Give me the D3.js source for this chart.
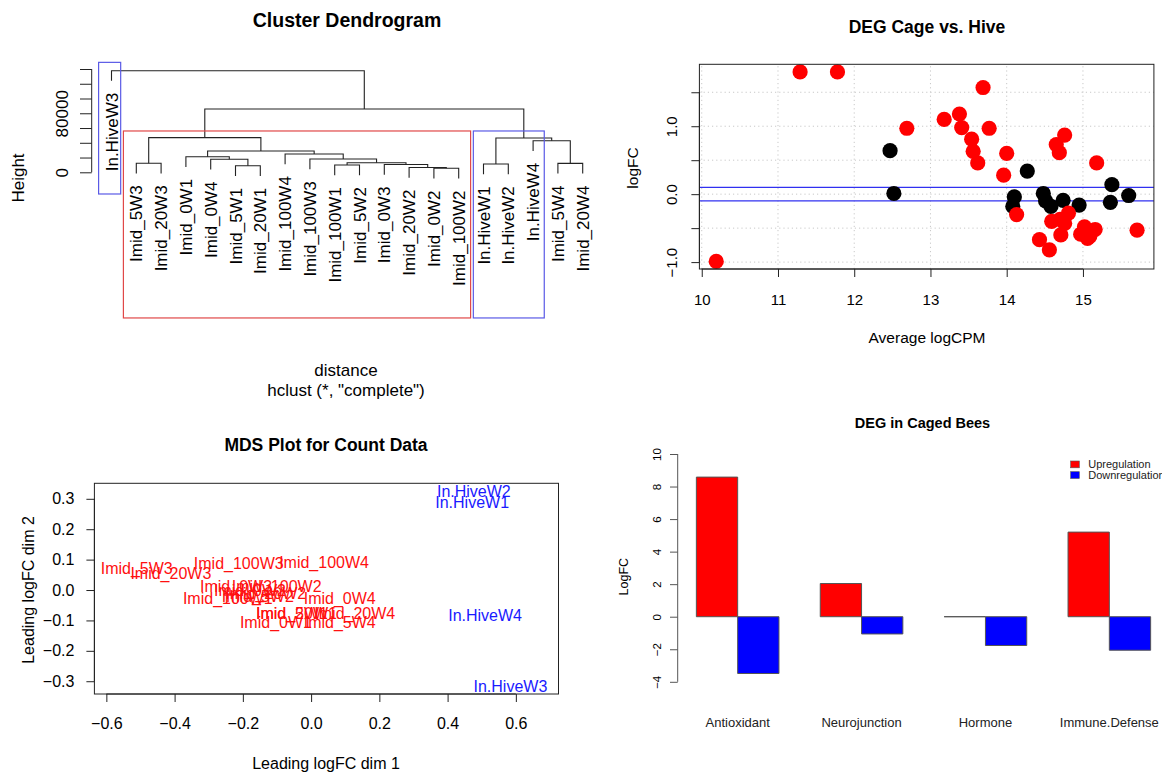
<!DOCTYPE html>
<html>
<head>
<meta charset="utf-8">
<script src="https://cdnjs.cloudflare.com/ajax/libs/d3/7.8.5/d3.min.js"></script>
<style>
body { margin: 0; background: #fff; }
svg { font-family: "Liberation Sans", Arial, Helvetica, sans-serif; }
</style>
</head>
<body>
<svg id="chart"></svg>
<script>
// ---------- DATA ----------
// dendrogram: leaves in plotted order, merges R-style (negative = leaf, positive = earlier merge)
var leafLabels = ["In.HiveW3", "Imid_5W3", "Imid_20W3", "Imid_0W1", "Imid_0W4", "Imid_5W1", "Imid_20W1",
    "Imid_100W4", "Imid_100W3", "Imid_100W1", "Imid_5W2", "Imid_0W3", "Imid_20W2", "Imid_0W2", "Imid_100W2",
    "In.HiveW1", "In.HiveW2", "In.HiveW4", "Imid_5W4", "Imid_20W4"];
var mergeA = [-14, -13, -6, -10, -12, -16, -19, -2, 4, -5, -9, -4, -8, 12, -18, 6, 8, 17, -1];
var mergeB = [-15, 1, -7, -11, 2, -17, -20, -3, 5, 3, 9, 10, 11, 13, 7, 15, 14, 16, 18];
var mergeHeight = [5400, 6500, 8900, 9900, 10600, 11200, 12100, 12300, 13000, 17600, 18000,
    21100, 24800, 28900, 42800, 46500, 47000, 85800, 137700];
var dendroTicks = [0, 20000, 40000, 60000, 80000, 100000, 120000, 140000];
var dendroTickLabels = [0, 80000];
// highlight boxes (leaf units, height units)
var boxFrom = [0.48, 1.48, 15.59];
var boxTo = [1.37, 15.48, 18.45];
var boxTop = [149000, 56000, 56000];
var boxBottom = [-29400, -197400, -197400];
var boxGroup = ["hive", "imid", "hive"];

// DEG cage vs hive (average logCPM, logFC)
var deX = [11.29, 11.78, 10.19, 13.69, 12.69, 13.18, 13.38, 13.41, 13.77, 13.54, 13.56, 13.62, 14.00, 13.96,
    14.76, 14.65, 14.69, 15.18, 14.13, 14.43, 14.56, 14.59, 14.70, 14.81, 14.76, 14.71, 14.97, 15.02,
    15.09, 15.16, 15.06, 15.71];
var deY = [1.80, 1.80, -0.99, 1.57, 0.97, 1.10, 1.18, 0.98, 0.97, 0.81, 0.63, 0.46, 0.60, 0.28,
    0.87, 0.73, 0.61, 0.46, -0.30, -0.67, -0.82, -0.40, -0.37, -0.28, -0.43, -0.60, -0.59, -0.48,
    -0.62, -0.52, -0.65, -0.53];
var nonDeX = [12.47, 12.52, 14.27, 14.10, 14.08, 14.48, 14.51, 14.58, 14.74, 14.95, 15.38, 15.36, 15.60];
var nonDeY = [0.64, 0.01, 0.34, -0.04, -0.18, 0.01, -0.10, -0.18, -0.09, -0.16, 0.14, -0.12, -0.02];
var degCutoffs = [-0.1, 0.1];
var degXTicks = [10, 11, 12, 13, 14, 15];
var degYTicks = [-1, -0.5, 0, 0.5, 1, 1.5];
var degYTickLabels = [-1, 0, 1];

// MDS plot
var mdsLabels = ["Imid_5W3", "Imid_20W3", "Imid_100W3", "Imid_100W4", "Imid_0W3", "Imid_100W2", "Imid_0W2",
    "Imid_5W2", "Imid_20W2", "Imid_100W1", "Imid_0W4", "Imid_5W1", "Imid_20W1", "Imid_20W4", "Imid_0W1",
    "Imid_5W4", "In.HiveW2", "In.HiveW1", "In.HiveW4", "In.HiveW3"];
var mdsDim1 = [-0.511, -0.411, -0.212, 0.038, -0.220, -0.101, -0.179, -0.156, -0.133, -0.244, 0.084,
    -0.056, -0.043, 0.128, -0.103, 0.084, 0.477, 0.472, 0.510, 0.584];
var mdsDim2 = [0.073, 0.056, 0.088, 0.093, 0.011, 0.011, 0.000, -0.020, -0.010, -0.027, -0.027,
    -0.077, -0.077, -0.077, -0.107, -0.107, 0.325, 0.290, -0.082, -0.318];
var mdsXLim = [-0.635, 0.725];
var mdsYLim = [-0.342, 0.351];
var mdsXTicks = [-0.6, -0.4, -0.2, 0, 0.2, 0.4, 0.6];
var mdsYTicks = [-0.3, -0.2, -0.1, 0, 0.1, 0.2, 0.3];

// DEG in caged bees
var barCategories = ["Antioxidant", "Neurojunction", "Hormone", "Immune.Defense"];
var upregulation = [8.58, 2.04, 0, 5.20];
var downregulation = [-3.49, -1.06, -1.77, -2.06];
var barSeries = ["Upregulation", "Downregulation"];
var barYTicks = [-4, -2, 0, 2, 4, 6, 8, 10];

// ---------- HELPERS ----------
var svg = d3.select('#chart').attr('width', 1162).attr('height', 777);
function rNum(d, digits) { // R style minus sign
    var s = digits == null ? String(d) : d.toFixed(digits);
    return s.replace('-', '\u2212');
}
function padExtent(e) {
    var r = e[1] - e[0];
    return [e[0] - 0.04 * r, e[1] + 0.04 * r];
}
// R style axis: line only spans first..last tick; d3 sets its own font, so reset it here
function styleAxis(g, scale, ticks, vertical, color, fontSize) {
    g.attr('font-family', null).attr('font-size', fontSize);
    var a = scale(ticks[0]), b = scale(ticks[ticks.length - 1]);
    g.select('.domain').remove();
    g.selectAll('.tick line').attr('stroke', color);
    g.selectAll('.tick text').attr('fill', '#000');
    g.append('line')
        .attr(vertical ? 'y1' : 'x1', a).attr(vertical ? 'y2' : 'x2', b)
        .attr('stroke', color);
}
function rotateLeftLabels(g, d) {
    g.selectAll('.tick text')
        .attr('transform', 'rotate(-90)')
        .attr('x', 0).attr('y', -d).attr('dy', 0)
        .style('text-anchor', 'middle');
}
function title(txt, x, y, size) {
    svg.append('text').attr('x', x).attr('y', y).attr('text-anchor', 'middle')
        .attr('font-weight', 'bold').attr('font-size', size).text(txt);
}
function label(txt, x, y, size, rot) {
    svg.append('text').attr('text-anchor', 'middle').attr('font-size', size)
        .attr('transform', 'translate(' + x + ',' + y + ')' + (rot ? ' rotate(-90)' : ''))
        .text(txt);
}

// ---------- CLUSTER DENDROGRAM ----------
var dx = d3.scaleLinear().domain([1, leafLabels.length]).range([111.5, 582.7]);
var dy = d3.scaleLinear().domain([0, 140000]).range([172.3, 69]);
var hang = 0.1 * d3.max(mergeHeight);
var dendro = svg.append('g');
var nodeX = [], leafBottom = [];

mergeA.forEach(function(a, i) {
    var b = mergeB[i], h = mergeHeight[i];
    function child(ref) {
        if (ref < 0) {
            leafBottom[-ref] = h - hang;
            return { x: dx(-ref), h: h - hang };
        }
        return { x: nodeX[ref - 1], h: mergeHeight[ref - 1] };
    }
    var ca = child(a), cb = child(b);
    nodeX[i] = (ca.x + cb.x) / 2;
    dendro.append('path')
        .attr('d', 'M' + ca.x + ',' + dy(ca.h) + 'V' + dy(h) + 'H' + cb.x + 'V' + dy(cb.h))
        .attr('fill', 'none').attr('stroke', '#222').attr('stroke-width', 1.1);
});

dendro.selectAll('.leaf')
    .data(leafLabels)
    .enter().append('text')
    .attr('transform', (d, i) => 'translate(' + dx(i + 1) + ',' + (dy(leafBottom[i + 1]) + 12) + ') rotate(-90)')
    .attr('dy', '0.36em')
    .attr('text-anchor', 'end')
    .attr('font-size', 17)
    .text(d => d);

dendro.selectAll('.box')
    .data(boxGroup)
    .enter().append('rect')
    .attr('x', (d, i) => dx(boxFrom[i]))
    .attr('y', (d, i) => dy(boxTop[i]))
    .attr('width', (d, i) => dx(boxTo[i]) - dx(boxFrom[i]))
    .attr('height', (d, i) => dy(boxBottom[i]) - dy(boxTop[i]))
    .attr('fill', 'none')
    .attr('stroke', d => d === 'hive' ? '#5a5ae6' : '#e04848')
    .attr('stroke-width', 1.2);

var dAxis = dendro.append('g').attr('transform', 'translate(91.7,0)')
    .call(d3.axisLeft(dy).tickValues(dendroTicks).tickSize(11.7)
        .tickFormat(d => dendroTickLabels.indexOf(d) >= 0 ? d : ''));
styleAxis(dAxis, dy, dendroTicks, true, '#222', 17);
rotateLeftLabels(dAxis, 24);

title('Cluster Dendrogram', 347, 27, 19.5);
label('Height', 24, 178, 17, true);
label('distance', 346, 376, 17);
label('hclust (*, "complete")', 346, 396, 17);

// ---------- DEG CAGE VS HIVE ----------
var degXs = d3.scaleLinear().domain(padExtent(d3.extent(deX.concat(nonDeX)))).range([699.4, 1153.9]);
var degYs = d3.scaleLinear().domain(padExtent(d3.extent(deY.concat(nonDeY)))).range([269, 64.3]);
var deg = svg.append('g');

deg.selectAll('.gx').data(degXTicks).enter().append('line')
    .attr('x1', d => degXs(d)).attr('x2', d => degXs(d))
    .attr('y1', degYs.range()[0]).attr('y2', degYs.range()[1])
    .attr('stroke', '#c8c8c8').attr('stroke-dasharray', '1.2,3');
deg.selectAll('.gy').data(degYTicks).enter().append('line')
    .attr('y1', d => degYs(d)).attr('y2', d => degYs(d))
    .attr('x1', degXs.range()[0]).attr('x2', degXs.range()[1])
    .attr('stroke', '#c8c8c8').attr('stroke-dasharray', '1.2,3');

deg.selectAll('.cut').data(degCutoffs).enter().append('line')
    .attr('y1', d => degYs(d)).attr('y2', d => degYs(d))
    .attr('x1', degXs.range()[0]).attr('x2', degXs.range()[1])
    .attr('stroke', '#3030f0').attr('stroke-width', 1.2);

deg.selectAll('.nde').data(nonDeX).enter().append('circle')
    .attr('cx', d => degXs(d)).attr('cy', (d, i) => degYs(nonDeY[i]))
    .attr('r', 7.6).attr('fill', '#000');
deg.selectAll('.de').data(deX).enter().append('circle')
    .attr('cx', d => degXs(d)).attr('cy', (d, i) => degYs(deY[i]))
    .attr('r', 7.6).attr('fill', '#f00');

deg.append('rect')
    .attr('x', degXs.range()[0]).attr('y', degYs.range()[1])
    .attr('width', degXs.range()[1] - degXs.range()[0])
    .attr('height', degYs.range()[0] - degYs.range()[1])
    .attr('fill', 'none').attr('stroke', '#222');

var degAxX = deg.append('g').attr('transform', 'translate(0,269)')
    .call(d3.axisBottom(degXs).tickValues(degXTicks).tickSize(8).tickPadding(17).tickFormat(d => d));
styleAxis(degAxX, degXs, degXTicks, false, '#222', 15);
var degAxY = deg.append('g').attr('transform', 'translate(699.4,0)')
    .call(d3.axisLeft(degYs).tickValues(degYTicks).tickSize(8)
        .tickFormat(d => degYTickLabels.indexOf(d) >= 0 ? rNum(d, 1) : ''));
styleAxis(degAxY, degYs, degYTicks, true, '#222', 15);
rotateLeftLabels(degAxY, 22.4);

title('DEG Cage vs. Hive', 927, 33, 17.5);
label('logFC', 638, 168, 15.5, true);
label('Average logCPM', 927, 343, 15.5);

// ---------- MDS PLOT ----------
var mx = d3.scaleLinear().domain(mdsXLim).range([94.4, 558.5]);
var my = d3.scaleLinear().domain(mdsYLim).range([694, 483.3]);
var mds = svg.append('g');

mds.append('rect')
    .attr('x', mx.range()[0]).attr('y', my.range()[1])
    .attr('width', mx.range()[1] - mx.range()[0])
    .attr('height', my.range()[0] - my.range()[1])
    .attr('fill', 'none').attr('stroke', '#222');

mds.selectAll('.lab').data(mdsLabels).enter().append('text')
    .attr('x', (d, i) => mx(mdsDim1[i]))
    .attr('y', (d, i) => my(mdsDim2[i]))
    .attr('dy', '0.36em')
    .attr('text-anchor', 'middle')
    .attr('font-size', 16)
    .attr('fill', d => d.indexOf('In.Hive') === 0 ? '#1a1aff' : '#ff1010')
    .text(d => d);

var mAxX = mds.append('g').attr('transform', 'translate(0,694)')
    .call(d3.axisBottom(mx).tickValues(mdsXTicks).tickSize(8).tickPadding(15.5).tickFormat(d => rNum(d, 1)));
styleAxis(mAxX, mx, mdsXTicks, false, '#222', 16);
var mAxY = mds.append('g').attr('transform', 'translate(94.4,0)')
    .call(d3.axisLeft(my).tickValues(mdsYTicks).tickSize(8).tickPadding(12).tickFormat(d => rNum(d, 1)));
styleAxis(mAxY, my, mdsYTicks, true, '#222', 16);

title('MDS Plot for Count Data', 326, 451, 17.5);
label('Leading logFC dim 2', 33.5, 590, 16, true);
label('Leading logFC dim 1', 326, 769, 16);

// ---------- DEG IN CAGED BEES ----------
// barplot(beside = TRUE): each group = 2 bars + 1 space, usr x extended by 4%
var nUnits = barCategories.length * 3;
var bx = d3.scaleLinear().domain(padExtent([1, nUnits])).range([678.2, 1168.8]);
var by = d3.scaleLinear().domain([-4, 10]).range([681.8, 454]);
var barColor = d3.scaleOrdinal().domain(barSeries).range(['#ff0000', '#0000ff']);
var bars = svg.append('g');

barCategories.forEach(function(cat, g) {
    [upregulation[g], downregulation[g]].forEach(function(v, s) {
        var x0 = bx(1 + 3 * g + s), x1 = bx(2 + 3 * g + s);
        bars.append('path')
            .attr('d', 'M' + x0 + ',' + by(0) + 'H' + x1 + 'V' + by(v) + 'H' + x0 + 'Z')
            .attr('fill', barColor(barSeries[s]))
            .attr('stroke', '#555').attr('stroke-width', 1);
    });
    bars.append('text')
        .attr('x', bx(2 + 3 * g)).attr('y', 727)
        .attr('text-anchor', 'middle').attr('font-size', 13)
        .attr('fill', '#222')
        .text(cat);
});

var bAxY = bars.append('g').attr('transform', 'translate(677.7,0)')
    .call(d3.axisLeft(by).tickValues(barYTicks).tickSize(7.7).tickFormat(d => rNum(d)));
styleAxis(bAxY, by, barYTicks, true, '#555', 11.5);
rotateLeftLabels(bAxY, 16.4);

var legend = bars.selectAll('.leg').data(barSeries).enter().append('g')
    .attr('transform', (d, i) => 'translate(1070.7,' + (461 + i * 10.7) + ')');
legend.append('rect').attr('width', 8.6).attr('height', 6.8)
    .attr('fill', d => barColor(d)).attr('stroke', '#555').attr('stroke-width', 0.6);
legend.append('text').attr('x', 17.5).attr('y', 3.4).attr('dy', '0.36em')
    .attr('font-size', 11).attr('fill', '#222').text(d => d);

title('DEG in Caged Bees', 922.5, 428, 14.5);
label('LogFC', 627.5, 576.7, 12.5, true);
</script>
</body>
</html>
